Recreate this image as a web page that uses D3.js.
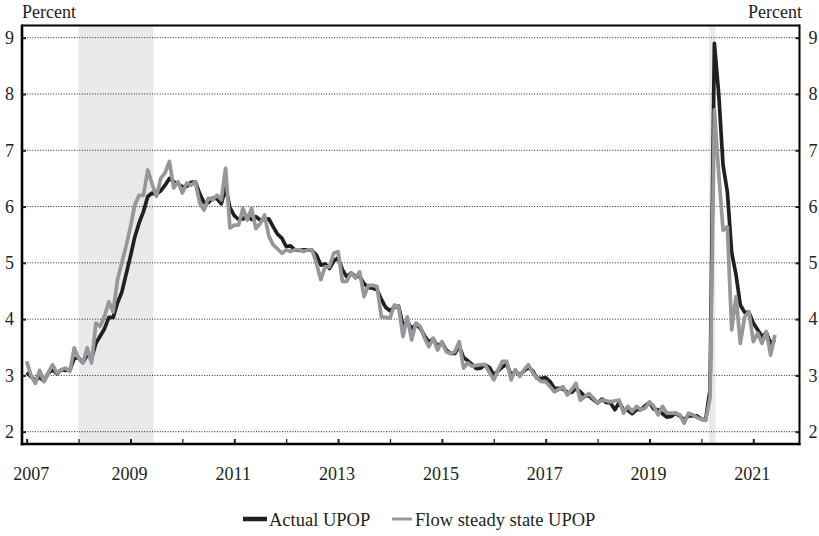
<!DOCTYPE html>
<html>
<head>
<meta charset="utf-8">
<script src="https://cdn.jsdelivr.net/npm/d3@7/dist/d3.min.js"></script>
<style>
  html, body { margin: 0; padding: 0; background: #fff; }
  svg text { font-family: "Liberation Serif", "Times New Roman", serif; fill: #231f20; }
</style>
</head>
<body>
<svg id="chart" width="819" height="536"></svg>
<script>
// ---- data ----
const startYear = 2007;           // first month: Jan 2007, monthly through Jun 2021
const actualUPOP = [
  3.05,2.98,2.91,2.97,2.90,3.04,3.10,3.03,3.10,3.09,3.10,3.30,
  3.31,3.23,3.37,3.30,3.57,3.70,3.83,4.03,4.03,4.29,4.48,4.80,
  5.12,5.46,5.71,5.91,6.18,6.24,6.22,6.28,6.38,6.50,6.44,6.40,
  6.35,6.36,6.43,6.44,6.23,6.07,6.07,6.15,6.14,6.05,6.33,5.98,
  5.84,5.77,5.78,5.84,5.77,5.82,5.76,5.77,5.78,5.64,5.51,5.44,
  5.29,5.30,5.23,5.22,5.23,5.23,5.22,5.14,4.96,4.98,4.90,5.03,
  5.09,4.88,4.75,4.82,4.76,4.76,4.63,4.56,4.55,4.52,4.35,4.21,
  4.15,4.21,4.23,3.89,3.96,3.83,3.90,3.84,3.70,3.59,3.65,3.51,
  3.59,3.45,3.39,3.39,3.52,3.32,3.26,3.19,3.12,3.13,3.19,3.14,
  3.01,3.08,3.15,3.20,3.01,3.07,3.01,3.08,3.14,3.08,2.95,2.95,
  2.96,2.89,2.77,2.77,2.76,2.70,2.70,2.77,2.71,2.63,2.64,2.57,
  2.51,2.58,2.52,2.51,2.39,2.52,2.39,2.38,2.32,2.39,2.39,2.46,
  2.52,2.40,2.39,2.32,2.26,2.27,2.33,2.28,2.21,2.28,2.28,2.28,
  2.22,2.22,2.75,8.90,8.01,6.74,6.26,5.18,4.79,4.25,4.12,4.12,
  3.93,3.81,3.69,3.76,3.57,3.63
];
const flowSteadyState = [
  3.25,3.00,2.86,3.09,2.89,3.05,3.19,3.04,3.10,3.13,3.07,3.49,
  3.30,3.22,3.49,3.22,3.93,3.87,4.05,4.31,4.13,4.70,5.00,5.30,
  5.64,6.03,6.20,6.20,6.65,6.40,6.18,6.50,6.60,6.80,6.33,6.44,
  6.24,6.42,6.38,6.44,6.06,5.94,6.15,6.12,6.20,6.12,6.68,5.62,
  5.67,5.67,5.97,5.76,5.97,5.61,5.70,5.85,5.47,5.32,5.25,5.17,
  5.23,5.20,5.23,5.23,5.20,5.23,5.23,4.99,4.70,4.93,4.93,5.17,
  5.20,4.67,4.67,4.82,4.73,4.84,4.40,4.60,4.60,4.58,4.04,4.03,
  4.02,4.25,4.22,3.69,4.04,3.63,3.93,3.87,3.66,3.51,3.66,3.45,
  3.60,3.42,3.39,3.42,3.60,3.13,3.22,3.16,3.18,3.19,3.19,3.05,
  2.92,3.10,3.25,3.25,2.92,3.10,2.98,3.10,3.19,3.05,2.95,2.89,
  2.89,2.80,2.71,2.75,2.80,2.65,2.75,2.86,2.56,2.62,2.68,2.60,
  2.51,2.56,2.55,2.53,2.55,2.56,2.33,2.45,2.36,2.45,2.39,2.42,
  2.53,2.45,2.30,2.45,2.33,2.33,2.33,2.30,2.15,2.33,2.30,2.25,
  2.22,2.20,2.60,7.72,6.60,5.58,5.64,3.81,4.40,3.57,4.04,4.13,
  3.60,3.75,3.57,3.78,3.36,3.72
];
const recessions = [[2008.0, 2009.44], [2020.15, 2020.27]];
const yTicks = [2, 3, 4, 5, 6, 7, 8, 9];
const xTicks = [2007,2008,2009,2010,2011,2012,2013,2014,2015,2016,2017,2018,2019,2020,2021];
const xLabels = [2007, 2009, 2011, 2013, 2015, 2017, 2019, 2021];
const seriesNames = ["Actual UPOP", "Flow steady state UPOP"];
const yUnit = "Percent";

// ---- layout ----
const L = 22, R = 799.5, T = 25.5, B = 444;
const svg = d3.select("#chart");
const x = d3.scaleLinear().domain([2006.91, 2021.89]).range([L, R]);
const y = d3.scaleLinear().domain([2, 9]).range([431.7, 37.7]);

const toPts = arr => arr.map((v, i) => ({ t: startYear + i / 12, v }));

// recession shading
svg.append("g").selectAll("rect").data(recessions).join("rect")
  .attr("x", d => x(d[0])).attr("width", d => x(d[1]) - x(d[0]))
  .attr("y", T).attr("height", B - T)
  .attr("fill", "#e9e9eb");

// gridlines
svg.append("g").selectAll("line").data(yTicks).join("line")
  .attr("x1", L).attr("x2", R)
  .attr("y1", d => y(d)).attr("y2", d => y(d))
  .attr("stroke", "#231f20").attr("stroke-width", 1)
  .attr("stroke-dasharray", "1,1.6");

// lines
const line = d3.line().x(d => x(d.t)).y(d => y(d.v)).curve(d3.curveLinear);
svg.append("path").datum(toPts(actualUPOP))
  .attr("d", line).attr("fill", "none")
  .attr("stroke", "#231f20").attr("stroke-width", 3.7).attr("stroke-linejoin", "round");
svg.append("path").datum(toPts(flowSteadyState))
  .attr("d", line).attr("fill", "none")
  .attr("stroke", "#95979a").attr("stroke-width", 3.7).attr("stroke-linejoin", "round");

// axes
const fs = "18px";
const left = svg.append("g").attr("transform", `translate(${L},0)`)
  .call(d3.axisLeft(y).tickValues(yTicks).tickSize(-4).tickPadding(8).tickFormat(d3.format("d")));
const right = svg.append("g").attr("transform", `translate(${R},0)`)
  .call(d3.axisRight(y).tickValues(yTicks).tickSize(-4).tickPadding(9).tickFormat(d3.format("d")));
const bottom = svg.append("g").attr("transform", `translate(0,${B})`)
  .call(d3.axisBottom(x).tickValues(xTicks).tickSize(-5).tickPadding(23)
    .tickFormat(d => xLabels.includes(d) ? String(d) : ""));
[left, right, bottom].forEach(g => {
  g.select(".domain").remove();
  g.selectAll(".tick line").attr("stroke", "#231f20").attr("stroke-width", 2);
  g.selectAll(".tick text").attr("font-size", fs)
    .attr("font-family", '"Liberation Serif", "Times New Roman", serif').attr("fill", "#231f20");
});
bottom.selectAll(".tick line").attr("stroke-width", d => xLabels.includes(d) ? 2 : 1.3);
bottom.selectAll(".tick text").attr("dx", d => d === xTicks[0] ? 4 : -1.5);

// frame
svg.append("line").attr("x1", L).attr("x2", L).attr("y1", T - 1).attr("y2", B + 1.3)
  .attr("stroke", "#000").attr("stroke-width", 2.6);
svg.append("line").attr("x1", L - 1.3).attr("x2", R + 1).attr("y1", B).attr("y2", B)
  .attr("stroke", "#000").attr("stroke-width", 2.6);
svg.append("line").attr("x1", L).attr("x2", R).attr("y1", T).attr("y2", T)
  .attr("stroke", "#000").attr("stroke-width", 2);
svg.append("line").attr("x1", R).attr("x2", R).attr("y1", T - 1).attr("y2", B + 1.3)
  .attr("stroke", "#000").attr("stroke-width", 2);

// unit labels
svg.append("text").attr("x", 22).attr("y", 18).attr("font-size", fs).text(yUnit);
svg.append("text").attr("x", 802).attr("y", 18).attr("font-size", fs)
  .attr("text-anchor", "end").text(yUnit);

// legend
const legend = svg.append("g");
const legendItems = [
  { name: seriesNames[0], color: "#231f20", sw: 4.5, x0: 243, x1: 267, tx: 269 },
  { name: seriesNames[1], color: "#95979a", sw: 3, x0: 392, x1: 412, tx: 415 }
];
legendItems.forEach(it => {
  legend.append("line").attr("x1", it.x0).attr("x2", it.x1).attr("y1", 519).attr("y2", 519)
    .attr("stroke", it.color).attr("stroke-width", it.sw);
  legend.append("text").attr("x", it.tx).attr("y", 525.7).attr("font-size", "18.5px").text(it.name);
});
</script>
</body>
</html>
